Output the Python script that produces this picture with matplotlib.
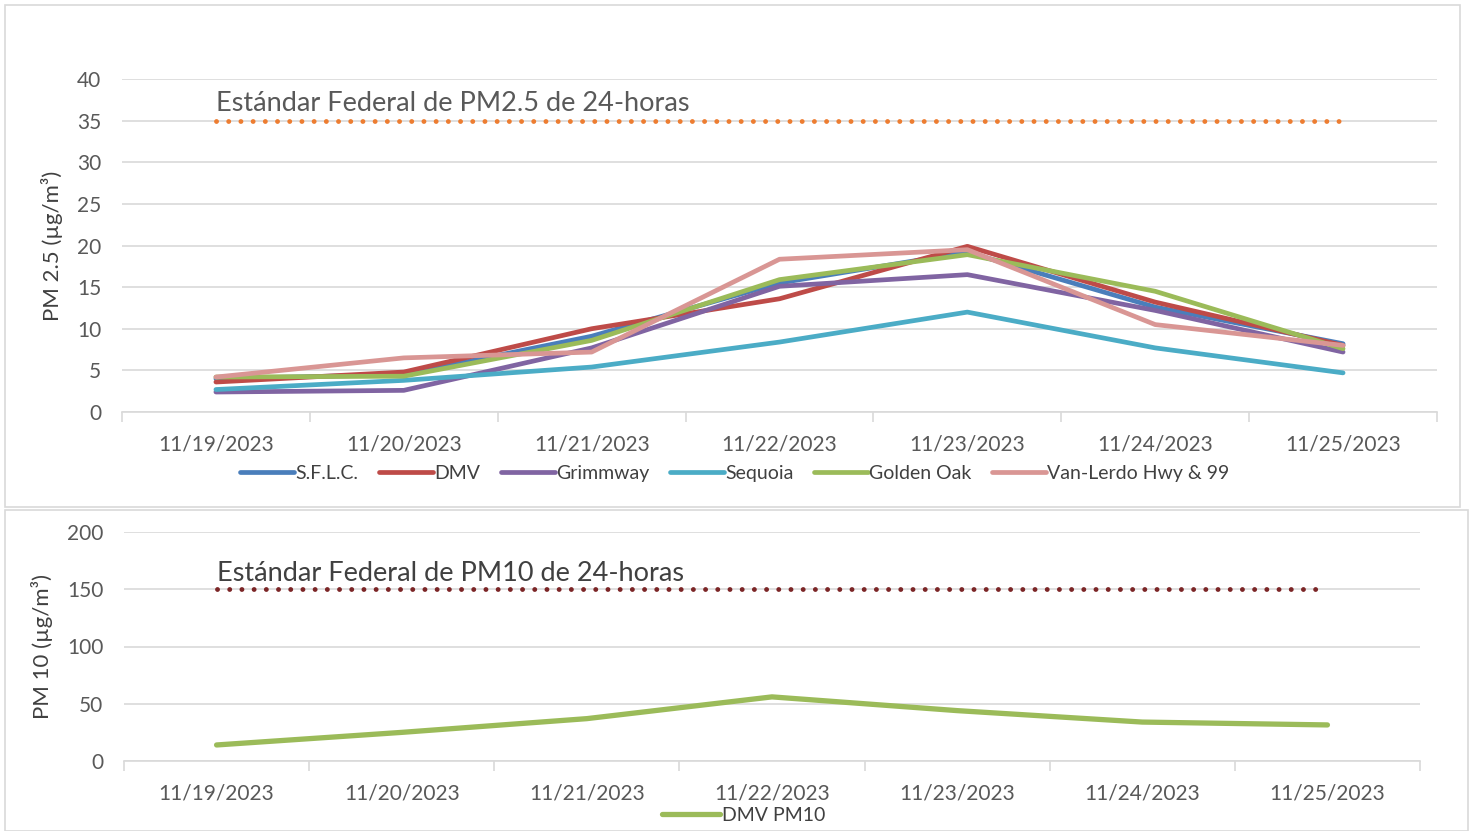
import matplotlib
matplotlib.use("Agg")
import matplotlib.pyplot as plt
from matplotlib.patches import Rectangle

plt.rcParams['font.family'] = ['Lato', 'DejaVu Sans']

# data
dates = ['11/19/2023', '11/20/2023', '11/21/2023', '11/22/2023',
         '11/23/2023', '11/24/2023', '11/25/2023']
sflc = [4.0, 4.5, 9.1, 15.5, 19.2, 12.6, 8.2]
dmv = [3.6, 4.8, 10.0, 13.6, 19.9, 13.2, 8.0]
grimmway = [2.4, 2.6, 7.7, 15.1, 16.5, 12.2, 7.2]
sequoia = [2.7, 3.8, 5.4, 8.4, 12.0, 7.7, 4.7]
golden_oak = [4.2, 4.3, 8.6, 15.9, 18.9, 14.5, 7.6]
van_lerdo = [4.2, 6.5, 7.2, 18.35, 19.5, 10.5, 8.0]
dmv_pm10 = [14, 25, 37, 56, 44, 34, 31.5]
pm25_std = 35
pm10_std = 150

series = [('S.F.L.C.', sflc, '#4A7EBB'),
          ('DMV', dmv, '#BE4B48'),
          ('Grimmway', grimmway, '#8064A2'),
          ('Sequoia', sequoia, '#4BACC6'),
          ('Golden Oak', golden_oak, '#9BBB59'),
          ('Van-Lerdo Hwy & 99', van_lerdo, '#D99694')]

W, H = 1475, 831
fig = plt.figure(figsize=(W / 100, H / 100), dpi=100)
txt = '#595959'
grid = '#D9D9D9'

def px_axes(x0, y0, x1, y1):
    return fig.add_axes([x0 / W, 1 - y1 / H, (x1 - x0) / W, (y1 - y0) / H])

# chart boxes
fig.patches.append(Rectangle((5 / W, 1 - 507 / H), 1455 / W, 502 / H, transform=fig.transFigure,
                             fill=False, ec='#D9D9D9', lw=1.2))
fig.patches.append(Rectangle((5 / W, 0), 1463 / W, 1 - 510 / H, transform=fig.transFigure,
                             fill=False, ec='#D9D9D9', lw=1.2))

def style(ax, ymax, step):
    x = list(range(len(dates)))
    ax.set_xlim(-0.5, len(dates) - 0.5)
    ax.set_ylim(0, ymax)
    ax.set_yticks(range(0, ymax + 1, step))
    ax.set_xticks(x)
    ax.set_xticklabels(dates)
    ax.set_xticks([i - 0.5 for i in range(len(dates) + 1)], minor=True)
    ax.tick_params(axis='x', which='major', length=0, pad=16, labelsize=15, labelcolor=txt)
    ax.tick_params(axis='x', which='minor', length=7, color=grid, width=1.2)
    ax.tick_params(axis='y', length=0, pad=15, labelsize=15, labelcolor=txt)
    ax.grid(axis='y', color=grid, lw=1.2)
    ax.set_axisbelow(True)
    for s in ['top', 'right', 'left']:
        ax.spines[s].set_visible(False)
    ax.spines['bottom'].set_color(grid)
    ax.spines['bottom'].set_linewidth(1.2)
    return x

# top chart: PM2.5
ax1 = px_axes(122, 79, 1437, 412)
x = style(ax1, 40, 5)
ax1.plot(x, [pm25_std] * len(x), color='#ED7D31', lw=3.5,
         linestyle=(0, (0.01, 2.5)), dash_capstyle='round')
for name, vals, col in series:
    ax1.plot(x, vals, color=col, lw=3.4, label=name, solid_capstyle='round')
ax1.text(0, pm25_std + 0.5, 'Estándar Federal de PM2.5 de 24-horas', fontsize=19.5,
         color=txt, ha='left', va='bottom')
ax1.set_ylabel('PM 2.5 (µg/m³)', fontsize=16, color='#404040', labelpad=10)
ax1.legend(loc='center', bbox_to_anchor=(0.466, -0.184), ncol=6, frameon=False,
           borderaxespad=0, fontsize=14, handlelength=2.8, handletextpad=0.05,
           columnspacing=1.05, labelcolor='#404040')

# bottom chart: PM10
ax2 = px_axes(124, 532, 1420, 761)
x = style(ax2, 200, 50)
ax2.plot(x, [pm10_std] * len(x), color='#7B2526', lw=3.5,
         linestyle=(0, (0.01, 2.5)), dash_capstyle='round')
ax2.plot(x, dmv_pm10, color='#9BBB59', lw=3.8, label='DMV PM10', solid_capstyle='round')
ax2.text(0, pm10_std + 3, 'Estándar Federal de PM10 de 24-horas', fontsize=19.5,
         color='#404040', ha='left', va='bottom')
ax2.set_ylabel('PM 10 (µg/m³)', fontsize=16, color='#404040', labelpad=10)
ax2.legend(loc='center', bbox_to_anchor=(0.478, -0.236), ncol=1, frameon=False,
           borderaxespad=0, fontsize=14, handlelength=3.0, handletextpad=0.1,
           labelcolor='#404040')

fig.savefig('out.png', dpi=100)
